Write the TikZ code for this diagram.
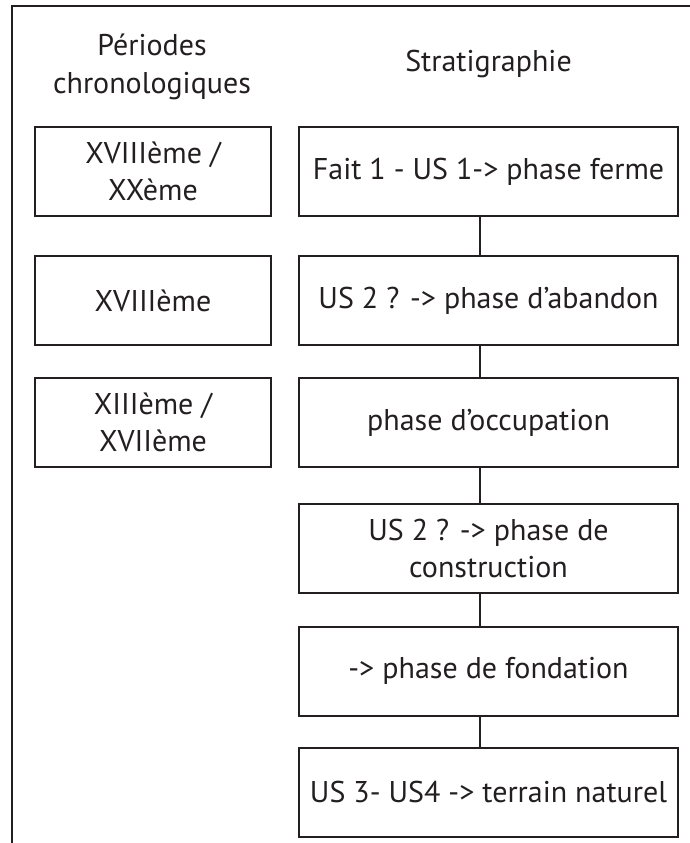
\documentclass[tikz,border=0pt]{standalone}
\usepackage{fontspec}
\setmainfont{PT Sans}
\definecolor{ink}{HTML}{231F20}
\begin{document}
\begin{tikzpicture}[x=1pt,y=-1pt,
  txt/.style={font=\fontsize{30}{37}\selectfont, text=ink, inner sep=0pt},
  lbox/.style={txt, draw=ink, line width=2pt, minimum width=236pt, minimum height=89pt, align=center},
  rbox/.style={txt, draw=ink, line width=2pt, minimum width=379pt, minimum height=89pt, align=center},
  link/.style={draw=ink, line width=2pt}]
\useasboundingbox (0,0) rectangle (690,843);
\coordinate (fb) at (12,843);
\coordinate (ft) at (12,6);
\coordinate (fr) at (690,6);
\draw[link] (fb) -- (ft) -- (fr);

\node[txt, anchor=base] (h1) at (152,56) {Périodes};
\node[txt, anchor=base] (h2) at (152,93) {chronologiques};
\node[txt, anchor=base] (h3) at (488.5,71) {Stratigraphie};

\node[lbox] (l1) at (153,171.5) {XVIIIème /\\XXème};
\node[lbox] (l2) at (153,300.5) {XVIIIème};
\node[lbox] (l3) at (153,422.5) {XIIIème /\\XVIIème};

\node[rbox] (r1) at (488.5,171.5) {Fait 1 - US 1-> phase ferme};
\node[rbox] (r2) at (488.5,300.5) {US 2 ? -> phase d’abandon};
\node[rbox] (r3) at (488.5,422.5) {phase d’occupation};
\node[rbox] (r4) at (488.5,548) {US 2 ? -> phase de\\construction};
\node[rbox] (r5) at (488.5,671) {-> phase de fondation};
\node[rbox] (r6) at (488.5,792) {US 3- US4 -> terrain naturel};

\foreach \a/\b in {r1/r2,r2/r3,r3/r4,r4/r5,r5/r6}
  \draw[link] ([xshift=-8.5pt]\a.south) -- ([xshift=-8.5pt]\b.north);
\end{tikzpicture}
\end{document}
